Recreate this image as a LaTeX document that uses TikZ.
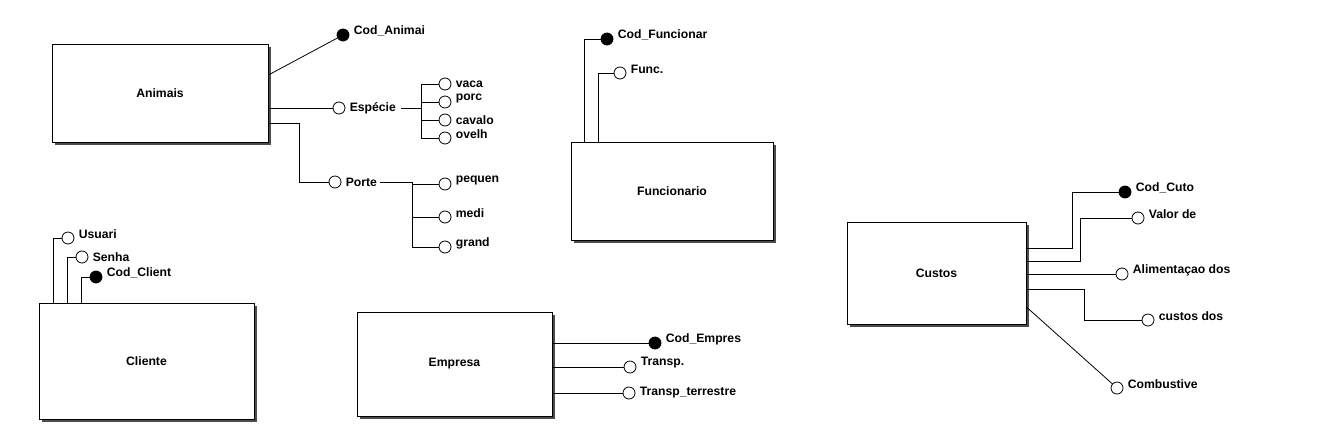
\documentclass[tikz,border=0pt]{standalone}
\usepackage{fontspec}
\setmainfont{Liberation Sans}
\usetikzlibrary{shadows}

\begin{document}
\begin{tikzpicture}[x=1pt,y=-1pt,line width=0.8pt,
    font=\fontsize{12.2}{14}\selectfont\bfseries,
    entity/.style={draw,fill=white,rectangle,inner sep=0pt,
        drop shadow={shadow xshift=2.5pt,shadow yshift=-2.5pt,fill=black!70,opacity=1}},
    attr/.style={draw,circle,fill=white,minimum size=12pt,inner sep=0pt},
    keyattr/.style={attr,fill=black},
    lbl/.style={inner sep=2pt},
    lblup/.style={lbl,yshift=4pt},
    label distance=2pt]
    \useasboundingbox (0,0) rectangle (1317,424);

    \node[entity,minimum width=216pt,minimum height=98pt] (animais) at (160,93) {Animais};
    \node[entity,minimum width=202pt,minimum height=98pt] (funcionario) at (672,191) {Funcionario};
    \node[entity,minimum width=215pt,minimum height=116pt] (cliente) at (146.5,361) {Cliente};
    \node[entity,minimum width=195pt,minimum height=104pt] (empresa) at (454.5,364) {Empresa};
    \node[entity,minimum width=179pt,minimum height=102pt] (custos) at (936.5,273) {Custos};

    \node[keyattr,label={[lblup]right:Cod\_Animai}] (codanimal) at (343,35) {};
    \node[attr,label={[lbl,name=especielbl]right:Espécie}] (especie) at (339,108) {};
    \node[attr,label={[lbl]right:vaca}] (vaca) at (445,84) {};
    \node[attr,label={[lblup]right:porc}] (porco) at (445,102) {};
    \node[attr,label={[lbl]right:cavalo}] (cavalo) at (445,120) {};
    \node[attr,label={[lblup]right:ovelh}] (ovelha) at (445,138) {};
    \node[attr,label={[lbl,name=portelbl]right:Porte}] (porte) at (335,182) {};
    \node[attr,label={[lblup]right:pequen}] (pequeno) at (445,184) {};
    \node[attr,label={[lblup]right:medi}] (medio) at (445,217) {};
    \node[attr,label={[lblup]right:grand}] (grande) at (445,247) {};

    \node[keyattr,label={[lblup]right:Cod\_Funcionar}] (codfunc) at (607,39) {};
    \node[attr,label={[lblup]right:Func.}] (funcanimal) at (620,73) {};

    \node[attr,label={[lblup]right:Usuari}] (usuario) at (68,238) {};
    \node[attr,label={[lbl]right:Senha}] (senha) at (82,257) {};
    \node[keyattr,label={[lblup]right:Cod\_Client}] (codcliente) at (96,277) {};

    \node[keyattr,label={[lblup]right:Cod\_Empres}] (codempresa) at (655,343) {};
    \node[attr,label={[lblup]right:Transp.}] (transpaereo) at (630,367) {};
    \node[attr,label={[lbl]right:Transp\_terrestre}] (transpterr) at (629,393) {};

    \node[keyattr,label={[lblup]right:Cod\_Cuto}] (codcusto) at (1125,192) {};
    \node[attr,label={[lblup]right:Valor de}] (valor) at (1138,218) {};
    \node[attr,label={[lblup]right:Alimentaçao dos}] (alimentacao) at (1122,274) {};
    \node[attr,label={[lblup]right:custos dos}] (custosfunc) at (1148,320) {};
    \node[attr,label={[lblup]right:Combustive}] (combustivel) at (1117,388) {};

    \coordinate (espbr) at (421,108);
    \coordinate (portejoin) at (299,182);
    \coordinate (portebr) at (412,182);
    \coordinate (custobr) at (1072,192);
    \coordinate (valorbr) at (1080,218);
    \coordinate (funcbr) at (1084,320);

    \draw (animais.east |- 0,75) -- (codanimal);
    \draw (animais.east |- especie) -- (especie);
    \draw ([xshift=3pt]especielbl.east) -- (espbr);
    \foreach \n in {vaca,porco,cavalo,ovelha}
        \draw (\n) -| (espbr);
    \draw (animais.east |- 0,123) -| (portejoin) -- (porte);
    \draw ([xshift=1pt]portelbl.east) -- (portebr);
    \foreach \n in {pequeno,medio,grande}
        \draw (\n) -| (portebr);

    \draw (funcionario.north -| 584,0) |- (codfunc);
    \draw (funcionario.north -| 598,0) |- (funcanimal);

    \draw (cliente.north -| 53,0) |- (usuario);
    \draw (cliente.north -| 67,0) |- (senha);
    \draw (cliente.north -| 81,0) |- (codcliente);

    \foreach \n in {codempresa,transpaereo,transpterr}
        \draw (empresa.east |- \n) -- (\n);

    \draw (custos.east |- 0,248) -| (custobr) -- (codcusto);
    \draw (custos.east |- 0,261) -| (valorbr) -- (valor);
    \draw (custos.east |- alimentacao) -- (alimentacao);
    \draw (custos.east |- 0,289) -| (funcbr) -- (custosfunc);
    \draw (custos.east |- 0,307) -- (combustivel);
\end{tikzpicture}
\end{document}
